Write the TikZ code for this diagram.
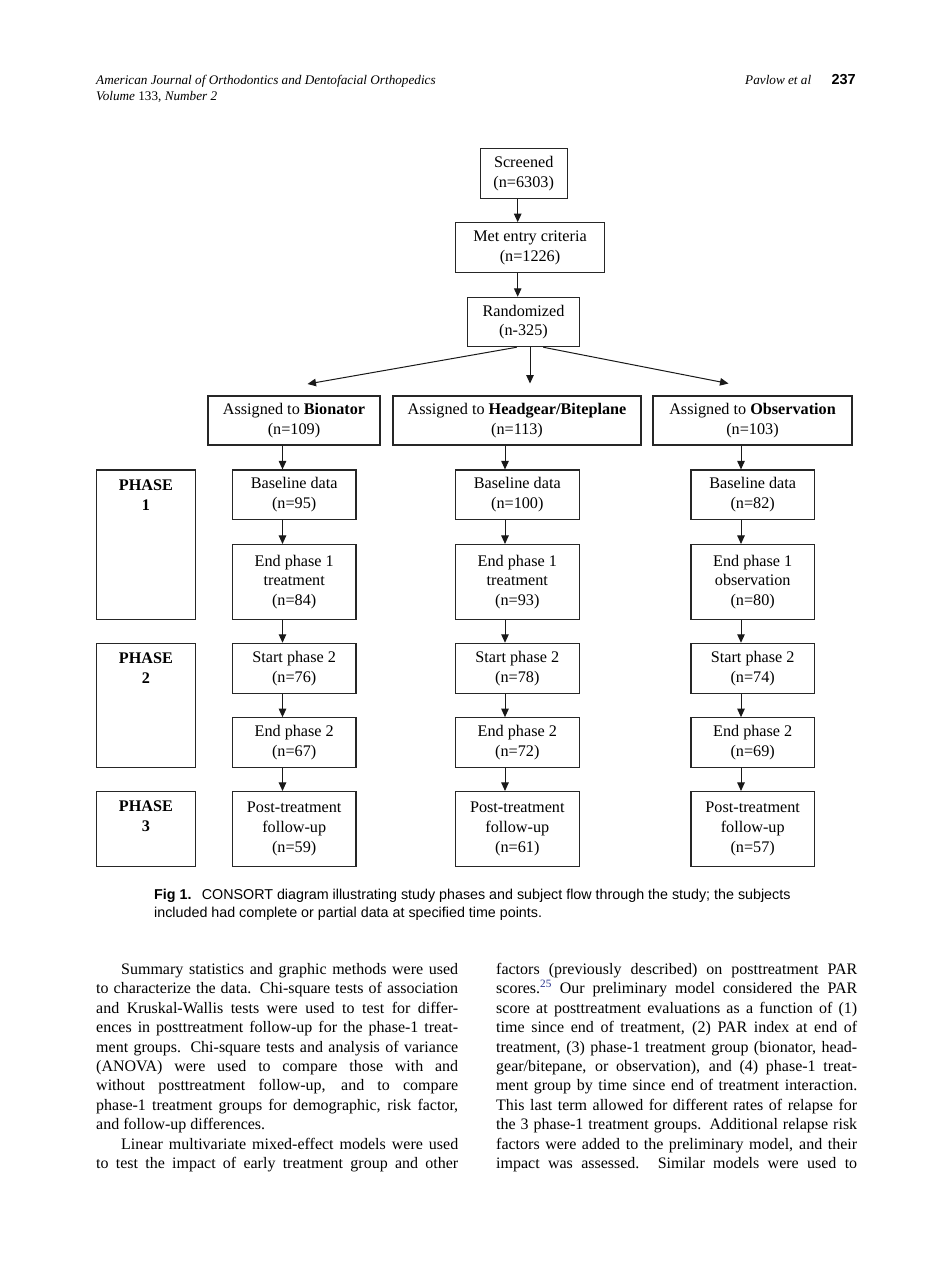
\documentclass[tikz,border=0pt]{standalone}
\usepackage{fontspec}
\setmainfont{Liberation Serif}
\newfontfamily\sansf{Liberation Sans}
\usetikzlibrary{arrows.meta}
\definecolor{refblue}{RGB}{40,50,140}
\newcommand\jl[1]{\hbox to\hsize{#1}}
\newcommand\jlast[1]{\hbox to\hsize{#1\hfil}}
\newcommand\bodyf{\fontsize{16}{19.4}\selectfont}
\begin{document}
\begin{tikzpicture}[x=1pt,y=-1pt,
  box/.style={draw=black!85, line width=1.1pt, inner sep=0pt, align=center,
    font=\fontsize{16.2}{19.8}\selectfont},
  small/.style={box, minimum width=123.5pt},
  phasebox/.style={draw=black!85, line width=1.1pt, inner sep=0pt, minimum width=99pt},
  phasetext/.style={inner sep=0pt, align=center, font=\fontsize{16.2}{19.8}\selectfont\bfseries},
  arr/.style={-{Triangle[length=8.5pt,width=7.5pt]}, line width=1pt, draw=black!90},
  txt/.style={inner sep=0pt}]
\useasboundingbox[fill=white] (0,0) rectangle (950,1272);

% header
\node[txt, anchor=base west, font=\fontsize{13.2}{16}\selectfont\itshape] (h1) at (96,84)
  {American Journal of Orthodontics and Dentofacial Orthopedics};
\node[txt, anchor=base west, font=\fontsize{13.2}{16}\selectfont] (h2) at (96,100.5)
  {\textit{Volume} 133, \textit{Number 2}};
\node[txt, anchor=base east, font=\fontsize{14.5}{16}\selectfont\sansf\bfseries] (pg) at (856,84) {237};
\node[txt, anchor=base east, font=\fontsize{13.2}{16}\selectfont\itshape] (au) at ([xshift=-20pt]pg.base west) {Pavlow et al};

% top chain
\node[box, minimum width=87.3pt, minimum height=50pt] (scr) at (523.7,173.3) {Screened\\(n=6303)};
\node[box, minimum width=148.6pt, minimum height=50pt] (met) at (530,247.7) {Met entry criteria\\(n=1226)};
\node[box, minimum width=111.6pt, minimum height=49.4pt] (rnd) at (523.5,322) {Randomized\\(n-325)};

\coordinate (tx) at (517.7,0);
\draw[arr] (scr.south -| tx) -- (met.north -| tx);
\draw[arr] (met.south -| tx) -- (rnd.north -| tx);

\coordinate (fl) at (307.5,384);
\coordinate (fm) at (530,383.5);
\coordinate (fr) at (728.5,383.5);
\draw[arr] ([xshift=-6.8pt]rnd.south) -- (fl);
\draw[arr] ([xshift=6.5pt]rnd.south) -- (fm);
\draw[arr] ([xshift=19.8pt]rnd.south) -- (fr);

% assigned
\node[box, minimum width=172pt, minimum height=49pt] (abio) at (294,420.5) {Assigned to \textbf{Bionator}\\(n=109)};
\node[box, minimum width=248pt, minimum height=49pt] (ahg) at (517,420.5) {Assigned to \textbf{Headgear/Biteplane}\\(n=113)};
\node[box, minimum width=199pt, minimum height=49pt] (aobs) at (752.5,420.5) {Assigned to \textbf{Observation}\\(n=103)};

% columns
\foreach \c/\cx/\b/\e/\bb/\s/\ee/\p in {
  A/294.2/95/treatment/84/76/67/59,
  B/517.3/100/treatment/93/78/72/61,
  C/752.7/82/observation/80/74/69/57}{
  \node[small, minimum height=49.3pt] (bl\c) at (\cx,494.6) {Baseline data\\(n=\b)};
  \node[small, minimum height=75pt] (ea\c) at (\cx,582) {End phase 1\\\e\\(n=\bb)};
  \node[small, minimum height=50pt] (sb\c) at (\cx,668.3) {Start phase 2\\(n=\s)};
  \node[small, minimum height=49.6pt] (eb\c) at (\cx,742.5) {End phase 2\\(n=\ee)};
  \node[small, minimum height=75pt] (pt\c) at (\cx,829) {Post-treatment\\follow-up\\(n=\p)};
}
\coordinate (xA) at (282.5,0);
\coordinate (xB) at (505,0);
\coordinate (xC) at (741,0);
\foreach \c/\a in {A/abio,B/ahg,C/aobs}{
  \draw[arr] (\a.south -| x\c) -- (bl\c.north -| x\c);
  \draw[arr] (bl\c.south -| x\c) -- (ea\c.north -| x\c);
  \draw[arr] (ea\c.south -| x\c) -- (sb\c.north -| x\c);
  \draw[arr] (sb\c.south -| x\c) -- (eb\c.north -| x\c);
  \draw[arr] (eb\c.south -| x\c) -- (pt\c.north -| x\c);
}

% phases
\node[phasebox, minimum height=149.3pt] (p1) at (146,544.65) {};
\node[phasebox, minimum height=124pt] (p2) at (146,705.3) {};
\node[phasebox, minimum height=75pt] (p3) at (146,829) {};
\node[phasetext] (t1) at ([yshift=-25.5pt]p1.north) {PHASE\\1};
\node[phasetext] (t2) at ([yshift=-25.5pt]p2.north) {PHASE\\2};
\node[phasetext] (t3) at ([yshift=-25.5pt]p3.north) {PHASE\\3};

% caption
\node[txt, anchor=base west, font=\fontsize{14.3}{18}\selectfont\sansf] (cap1) at (154,899)
  {\textbf{Fig 1.}\hspace{5pt} CONSORT diagram illustrating study phases and subject flow through the study; the subjects};
\node[txt, anchor=base west, font=\fontsize{14.3}{18}\selectfont\sansf] (cap2) at (154,917)
  {included had complete or partial data at specified time points.};

% body left
\node[txt, anchor=base west] (bodyL) at (96,974.5) {\bodyf\vtop{\hsize=362pt
\jl{\hskip25pt Summary statistics and graphic methods were used}
\jl{to characterize the data. Chi-square tests of association}
\jl{and Kruskal-Wallis tests were used to test for differ-}
\jl{ences in posttreatment follow-up for the phase-1 treat-}
\jl{ment groups. Chi-square tests and analysis of variance}
\jl{(ANOVA) were used to compare those with and}
\jl{without posttreatment follow-up, and to compare}
\jl{phase-1 treatment groups for demographic, risk factor,}
\jlast{and follow-up differences.}
\jl{\hskip25pt Linear multivariate mixed-effect models were used}
\jl{to test the impact of early treatment group and other}}};

% body right
\node[txt, anchor=base west] (bodyR) at (496,974.5) {\bodyf\vtop{\hsize=361pt
\jl{factors (previously described) on posttreatment PAR}
\jl{scores.\textsuperscript{\color{refblue}25} Our preliminary model considered the PAR}
\jl{score at posttreatment evaluations as a function of (1)}
\jl{time since end of treatment, (2) PAR index at end of}
\jl{treatment, (3) phase-1 treatment group (bionator, head-}
\jl{gear/bitepane, or observation), and (4) phase-1 treat-}
\jl{ment group by time since end of treatment interaction.}
\jl{This last term allowed for different rates of relapse for}
\jl{the 3 phase-1 treatment groups. Additional relapse risk}
\jl{factors were added to the preliminary model, and their}
\jl{impact was assessed. Similar models were used to}}};
\end{tikzpicture}
\end{document}
